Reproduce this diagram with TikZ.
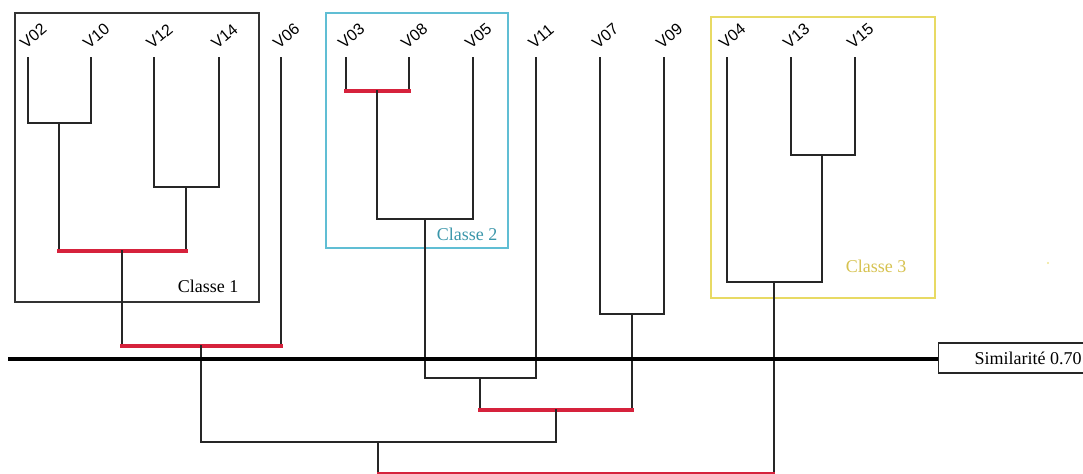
\documentclass[tikz,border=0pt]{standalone}
\usepackage{fontspec}
\setmainfont{Liberation Serif}
\newfontfamily\leaffont{Liberation Sans}
\definecolor{cutred}{RGB}{214,34,60}
\definecolor{clsblue}{RGB}{96,190,212}
\definecolor{clsbluetext}{RGB}{58,150,170}
\definecolor{clsyellow}{RGB}{232,218,100}
\definecolor{clsyellowtext}{RGB}{214,194,80}

% merge two branches at the level of the joint: vertical drops, then the bar
\newcommand\joinpair[4]{%
  \draw[link] (#2) -- (#2 |- #4);
  \draw[link] (#3) -- (#3 |- #4);
  \draw[#1] (#2 |- #4) -- (#3 |- #4);}

\begin{document}
\begin{tikzpicture}[x=0.75pt,y=-0.75pt,
  link/.style={draw=black!85,line width=0.8pt,line cap=rect},
  cut/.style={draw=cutred,line width=2.3pt,line cap=rect},
  cutthin/.style={draw=cutred,line width=1.5pt,line cap=rect},
  leaf/.style={font=\leaffont\fontsize{12}{14}\selectfont,rotate=40,
               anchor=south west,inner sep=0pt},
  clslabel/.style={font=\fontsize{13.5}{15}\selectfont,inner sep=0pt},
  threshold/.style={draw=black,line width=2.3pt}]
\useasboundingbox (0,0) rectangle (1083,474);

% class frames
\draw[black!80,line width=0.8pt] (15,13) rectangle (259,302);
\draw[clsblue,line width=0.8pt] (326,13) rectangle (508,248);
\draw[clsyellow,line width=0.8pt] (711,17) rectangle (935,298);
\node[clslabel] (c1) at (208,286) {Classe 1};
\node[clslabel,text=clsbluetext] (c2) at (467,234) {Classe 2};
\node[clslabel,text=clsyellowtext] (c3) at (876,266) {Classe 3};

% leaves
\foreach \n/\x in {V02/28,V10/91,V12/154,V14/219,V06/281,V03/346,V08/409,
                   V05/473,V11/536,V07/600,V09/664,V04/727,V13/791,V15/855}{
  \node[leaf] (\n) at (\x-2,50) {\n};
  \coordinate (t\n) at (\x,58);
}

% joints of the tree
\coordinate (j1) at (59,123);
\coordinate (j2) at (186,187);
\coordinate (r1) at (122,251);
\coordinate (r2) at (201,346);
\coordinate (r3) at (377,91);
\coordinate (j4) at (425,219);
\coordinate (j5) at (480,378);
\coordinate (j6) at (632,314);
\coordinate (r4) at (556,410);
\coordinate (j7) at (378,442);
\coordinate (j8) at (822,155);
\coordinate (j9) at (774,282);
\coordinate (r5) at (576,473);

\joinpair{link}{tV02}{tV10}{j1}
\joinpair{link}{tV12}{tV14}{j2}
\joinpair{cut}{j1}{j2}{r1}
\joinpair{cut}{r1}{tV06}{r2}
\joinpair{cut}{tV03}{tV08}{r3}
\joinpair{link}{r3}{tV05}{j4}
\joinpair{link}{j4}{tV11}{j5}
\joinpair{link}{tV07}{tV09}{j6}
\joinpair{cut}{j5}{j6}{r4}
\joinpair{link}{r2}{r4}{j7}
\joinpair{link}{tV13}{tV15}{j8}
\joinpair{link}{tV04}{j8}{j9}
\joinpair{cutthin}{j7}{j9}{r5}

% cut level
\node[draw=black!85,line width=0.8pt,anchor=west,minimum height=22.5pt,
      inner xsep=27pt,font=\fontsize{13.5}{15}\selectfont] (sim) at (938,358)
      {Similarité 0.70};
\coordinate (thr) at (8,359);
\draw[threshold] (thr) -- (thr -| sim.west);

% speck
\fill[clsyellow!70] (1048,263) circle (0.9pt);
\end{tikzpicture}
\end{document}
